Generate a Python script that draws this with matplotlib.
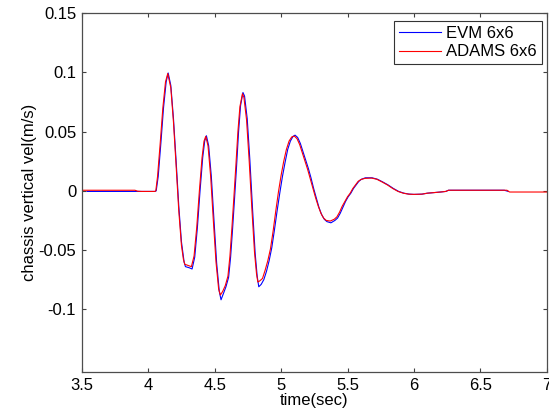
import matplotlib
matplotlib.use('Agg')
import matplotlib.pyplot as plt

plt.rcParams['font.family'] = ['Liberation Sans', 'DejaVu Sans']

# EVM 6x6 (blue)
t_evm = [3.54, 3.90, 4.05, 4.06, 4.075, 4.095, 4.115, 4.135, 4.15, 4.17,
         4.19, 4.21, 4.23, 4.25, 4.27, 4.28, 4.31, 4.33, 4.35, 4.37,
         4.39, 4.41, 4.425, 4.438, 4.455, 4.475, 4.495, 4.515, 4.535, 4.548,
         4.565, 4.585, 4.605, 4.62, 4.635, 4.65, 4.665, 4.68, 4.695, 4.713,
         4.725, 4.745, 4.765, 4.785, 4.805, 4.82, 4.832, 4.85, 4.87, 4.89,
         4.91, 4.93, 4.95, 4.97, 4.99, 5.01, 5.03, 5.05, 5.07, 5.09,
         5.105, 5.125, 5.145, 5.165, 5.185, 5.205, 5.225, 5.245, 5.265, 5.285,
         5.305, 5.325, 5.345, 5.375, 5.405, 5.425, 5.445, 5.465, 5.485, 5.505,
         5.525, 5.545, 5.565, 5.585, 5.605, 5.635, 5.685, 5.725, 5.765, 5.805,
         5.845, 5.885, 5.925, 5.965, 6.00, 6.06, 6.10, 6.15, 6.20, 6.24,
         6.26, 6.68, 6.71]
v_evm = [-0.0005, -0.0005, -0.0005, 0.0, 0.012, 0.040, 0.070, 0.092, 0.0995, 0.089,
         0.061, 0.025, -0.013, -0.043, -0.060, -0.064, -0.065, -0.066, -0.056, -0.031,
         0.000, 0.028, 0.042, 0.0465, 0.038, 0.012, -0.025, -0.061, -0.085, -0.092,
         -0.087, -0.081, -0.073, -0.056, -0.032, -0.006, 0.021, 0.050, 0.072, 0.083,
         0.080, 0.061, 0.026, -0.015, -0.053, -0.072, -0.081, -0.079, -0.075, -0.068,
         -0.059, -0.048, -0.033, -0.017, -0.002, 0.012, 0.024, 0.035, 0.042, 0.046,
         0.047, 0.045, 0.040, 0.033, 0.026, 0.019, 0.011, 0.002, -0.006, -0.014,
         -0.020, -0.024, -0.026, -0.027, -0.025, -0.023, -0.019, -0.014, -0.009, -0.005,
         -0.002, 0.002, 0.005, 0.008, 0.0098, 0.011, 0.011, 0.0098, 0.0075, 0.005,
         0.002, -0.0005, -0.002, -0.0028, -0.003, -0.0028, -0.002, -0.0015, -0.001, -0.0005,
         0.0005, 0.0005, -0.0005]

# ADAMS 6x6 (red)
t_adams = [3.50, 3.90, 3.92, 3.95, 4.05, 4.057, 4.07, 4.09, 4.11, 4.13,
           4.147, 4.17, 4.19, 4.21, 4.23, 4.25, 4.265, 4.275, 4.30, 4.325,
           4.345, 4.365, 4.385, 4.405, 4.42, 4.433, 4.45, 4.47, 4.49, 4.51,
           4.53, 4.543, 4.56, 4.58, 4.60, 4.615, 4.63, 4.645, 4.66, 4.675,
           4.69, 4.709, 4.72, 4.74, 4.76, 4.78, 4.80, 4.815, 4.825, 4.84,
           4.86, 4.88, 4.90, 4.92, 4.94, 4.96, 4.98, 5.00, 5.02, 5.04,
           5.06, 5.08, 5.10, 5.12, 5.14, 5.16, 5.18, 5.20, 5.22, 5.24,
           5.26, 5.28, 5.30, 5.32, 5.34, 5.37, 5.40, 5.42, 5.44, 5.46,
           5.48, 5.50, 5.52, 5.54, 5.56, 5.58, 5.60, 5.63, 5.68, 5.72,
           5.76, 5.80, 5.84, 5.88, 5.92, 5.96, 6.00, 6.06, 6.10, 6.15,
           6.20, 6.24, 6.26, 6.70, 6.72, 7.00]
v_adams = [0.0005, 0.0005, -0.0003, -0.0005, -0.0005, 0.0, 0.012, 0.040, 0.070, 0.092,
           0.099, 0.087, 0.058, 0.021, -0.017, -0.046, -0.058, -0.062, -0.063, -0.064,
           -0.055, -0.031, 0.000, 0.028, 0.042, 0.046, 0.038, 0.012, -0.025, -0.060,
           -0.083, -0.088, -0.085, -0.080, -0.072, -0.055, -0.031, -0.005, 0.022, 0.050,
           0.071, 0.082, 0.079, 0.060, 0.025, -0.015, -0.052, -0.070, -0.077, -0.076,
           -0.074, -0.067, -0.059, -0.049, -0.034, -0.017, -0.001, 0.013, 0.025, 0.035,
           0.042, 0.0455, 0.0462, 0.044, 0.039, 0.032, 0.025, 0.018, 0.010, 0.002,
           -0.006, -0.013, -0.019, -0.023, -0.025, -0.0255, -0.024, -0.022, -0.018, -0.013,
           -0.009, -0.005, -0.002, 0.002, 0.005, 0.008, 0.0095, 0.0105, 0.0108, 0.0098,
           0.0075, 0.005, 0.002, -0.0005, -0.002, -0.0028, -0.003, -0.0028, -0.002, -0.0015,
           -0.001, -0.0005, 0.0005, 0.0005, -0.001, -0.001]

xticks = [3.5, 4, 4.5, 5, 5.5, 6, 6.5, 7]
xticklabels = ['3.5', '4', '4.5', '5', '5.5', '6', '6.5', '7']
yticks = [-0.1, -0.05, 0, 0.05, 0.1, 0.15]
yticklabels = ['-0.1', '-0.05', '0', '0.05', '0.1', '0.15']

fig = plt.figure(figsize=(5.49, 4.12), dpi=100)
ax = fig.add_axes([0.149, 0.097, 0.847, 0.871])

ax.plot(t_evm, v_evm, color='blue', lw=0.8, label='EVM 6x6')
ax.plot(t_adams, v_adams, color='red', lw=0.8, label='ADAMS 6x6')

ax.set_xlim(3.5, 7)
ax.set_ylim(-0.153, 0.15)
ax.set_xticks(xticks)
ax.set_xticklabels(xticklabels)
ax.set_yticks(yticks)
ax.set_yticklabels(yticklabels)
ax.tick_params(direction='in', length=3, width=0.8, top=True, right=True,
               labelsize=12, colors='0.25', labelcolor='black', pad=4)
for s in ax.spines.values():
    s.set_color('0.3')
    s.set_linewidth(0.9)

ax.set_xlabel('time(sec)', fontsize=12, labelpad=0)
ax.set_ylabel('chassis vertical vel(m/s)', fontsize=12, labelpad=1)

leg = ax.legend(loc='upper right', bbox_to_anchor=(0.989, 0.978), borderaxespad=0,
                fontsize=12, fancybox=False, framealpha=1, handlelength=2.5,
                handletextpad=0.3, borderpad=0.3, labelspacing=0.2)
leg.get_frame().set_edgecolor('0.2')
leg.get_frame().set_linewidth(0.8)

fig.savefig('out.png', dpi=100)
